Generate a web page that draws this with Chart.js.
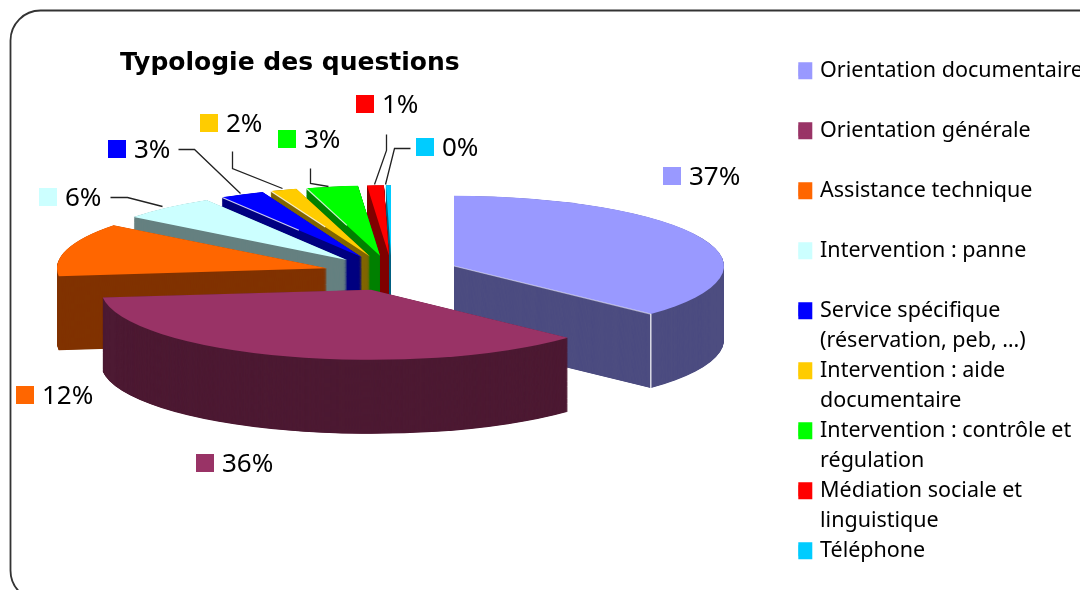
<!DOCTYPE html>
<html>
<head>
<meta charset="utf-8">
<script src="https://cdn.jsdelivr.net/npm/chart.js@4"></script>
<style>
html, body { margin: 0; padding: 0; background: #fff; overflow: hidden; }
</style>
</head>
<body>
<canvas id="typologieChart" width="1080" height="590"></canvas>
<script>
const categories = [
	["Orientation documentaire"],
	["Orientation générale"],
	["Assistance technique"],
	["Intervention : panne"],
	["Service spécifique", "(réservation, peb, …)"],
	["Intervention : aide", "documentaire"],
	["Intervention : contrôle et", "régulation"],
	["Médiation sociale et", "linguistique"],
	["Téléphone"]
];
const values = [37, 36.2, 12.3, 5.8, 2.7, 1.6, 3.1, 1, 0.3];
const percentLabels = ["37%", "36%", "12%", "6%", "3%", "2%", "3%", "1%", "0%"];
const topColors = ["#9999ff", "#993366", "#ff6600", "#ccffff", "#0000ff", "#ffcc00", "#00ff00", "#ff0000", "#00ccff"];
const sideColors = ["#4d4d80", "#4d1a33", "#803300", "#668080", "#000080", "#806600", "#008000", "#800000", "#006680"];

// where each percent label sits (swatch left, swatch top) and its leader line
const labelSpots = [[663, 167], [196, 454], [16, 386], [39, 188], [108, 140], [200, 114], [278, 130], [356, 95], [416, 138]];
const leaders = [
	[], [], [],
	[[110, 197], [127, 197], [162, 206]],
	[[178, 149], [194, 149], [240, 193]],
	[[232, 151], [232, 168], [282, 188]],
	[[310, 168], [310, 183], [328, 186]],
	[[386, 134], [386, 150], [374, 184]],
	[[410, 148], [394, 148], [385, 184]]
];

const pieX = 392, pieY = 273, squash = 0.26, explode = 67.5, depth = 74;
const drawOrder = [8, 7, 6, 5, 4, 3, 2, 0, 1];
const litEdges = [4, 5, 6];

function sliceShift(arc) {
	const mid = (arc.startAngle + arc.endAngle) / 2;
	return { x: Math.round(Math.cos(mid) * explode), y: Math.sin(mid) * explode };
}

function paintArc(ctx, arc, color, drop) {
	const keep = arc.options;
	const shift = sliceShift(arc);
	arc.options = Object.assign({}, keep, { backgroundColor: color });
	ctx.save();
	ctx.translate(pieX, pieY + drop);
	ctx.scale(1, squash);
	ctx.translate(shift.x - arc.x, shift.y - arc.y);
	arc.draw(ctx);
	ctx.restore();
	arc.options = keep;
}

// point on a slice's straight edge, t = 0 at the apex, 1 on the rim
function edgePoint(arc, angle, t) {
	const shift = sliceShift(arc);
	return {
		x: pieX + shift.x + Math.cos(angle) * arc.outerRadius * t,
		y: pieY + squash * (shift.y + Math.sin(angle) * arc.outerRadius * t)
	};
}

function strokeSeam(ctx, a, b, alpha) {
	ctx.save();
	ctx.strokeStyle = 'rgba(255, 255, 255, ' + alpha + ')';
	ctx.lineWidth = 1.2;
	ctx.beginPath();
	ctx.moveTo(a.x, a.y);
	ctx.lineTo(b.x, b.y);
	ctx.stroke();
	ctx.restore();
}

// squashed, exploded pie with a side wall, painted back to front
const pie3d = {
	id: 'pie3d',
	beforeDraw(chart) {
		const ctx = chart.ctx;
		ctx.save();
		ctx.strokeStyle = '#333';
		ctx.lineWidth = 1.8;
		ctx.beginPath();
		ctx.roundRect(10.5, 10.5, 1100, 590, 30);
		ctx.stroke();
		ctx.restore();
	},
	beforeDatasetsDraw(chart) {
		const ctx = chart.ctx;
		const arcs = chart.getDatasetMeta(0).data;
		drawOrder.forEach(function(i) {
			const arc = arcs[i];
			for (let d = depth; d > 0; d -= 0.34) {
				paintArc(ctx, arc, sideColors[i], d);
			}
			paintArc(ctx, arc, topColors[i], 0);
			if (litEdges.includes(i)) {
				strokeSeam(ctx, edgePoint(arc, arc.startAngle, 1), edgePoint(arc, arc.startAngle, 0.45), 0.8);
			}
		});
		// white seam on the front corner of the first slice
		const first = arcs[0];
		const corner = edgePoint(first, first.endAngle, 1);
		strokeSeam(ctx, corner, { x: corner.x, y: corner.y + depth }, 1);
		strokeSeam(ctx, corner, edgePoint(first, first.endAngle, 0), 0.5);
	},
	beforeDatasetDraw() {
		return false;
	},
	afterDatasetsDraw(chart) {
		const ctx = chart.ctx;
		ctx.save();
		ctx.strokeStyle = '#222';
		ctx.lineWidth = 1.3;
		leaders.forEach(function(line) {
			if (!line.length) return;
			ctx.beginPath();
			line.forEach(function(p, n) {
				if (n === 0) ctx.moveTo(p[0] + 0.5, p[1] + 0.5);
				else ctx.lineTo(p[0] + 0.5, p[1] + 0.5);
			});
			ctx.stroke();
		});
		ctx.font = '26px "Noto Sans"';
		ctx.textBaseline = 'middle';
		percentLabels.forEach(function(text, i) {
			const spot = labelSpots[i];
			ctx.fillStyle = topColors[i];
			ctx.fillRect(spot[0], spot[1], 18, 18);
			ctx.fillStyle = '#000';
			ctx.fillText(text, spot[0] + 26, spot[1] + 11);
		});
		ctx.restore();
	}
};

const ctx = document.getElementById('typologieChart').getContext('2d');
const myChart = new Chart(ctx, {
	type: 'pie',
	data: {
		labels: categories,
		datasets: [
			{
				data: values,
				backgroundColor: topColors,
				borderWidth: 0,
				radius: 270
			}
		]
	},
	options: {
		responsive: false,
		animation: false,
		layout: { padding: { left: 120, top: 60, right: -13 } },
		plugins: {
			title: {
				display: true,
				text: 'Typologie des questions',
				align: 'start',
				fullSize: false,
				color: '#000',
				font: { family: '"DejaVu Sans"', size: 25, weight: 'bold', lineHeight: 1.2 },
				padding: { top: -12, bottom: 0 }
			},
			legend: {
				position: 'right',
				align: 'start',
				labels: {
					boxWidth: 11,
					boxHeight: 11,
					padding: 0,
					color: '#000',
					font: { family: '"Noto Sans"', size: 21.5, lineHeight: 30 / 21.5 },
					generateLabels(chart) {
						return categories.map(function(lines, i) {
							return {
								// every entry but the last takes two rows, as in the reference
								text: lines.length === 1 && i < categories.length - 1 ? [lines[0], ''] : lines,
								fillStyle: topColors[i],
								strokeStyle: topColors[i],
								lineWidth: 6,
								index: i
							};
						});
					}
				}
			},
			tooltip: { enabled: false }
		}
	},
	plugins: [pie3d]
});
</script>
</body>
</html>
